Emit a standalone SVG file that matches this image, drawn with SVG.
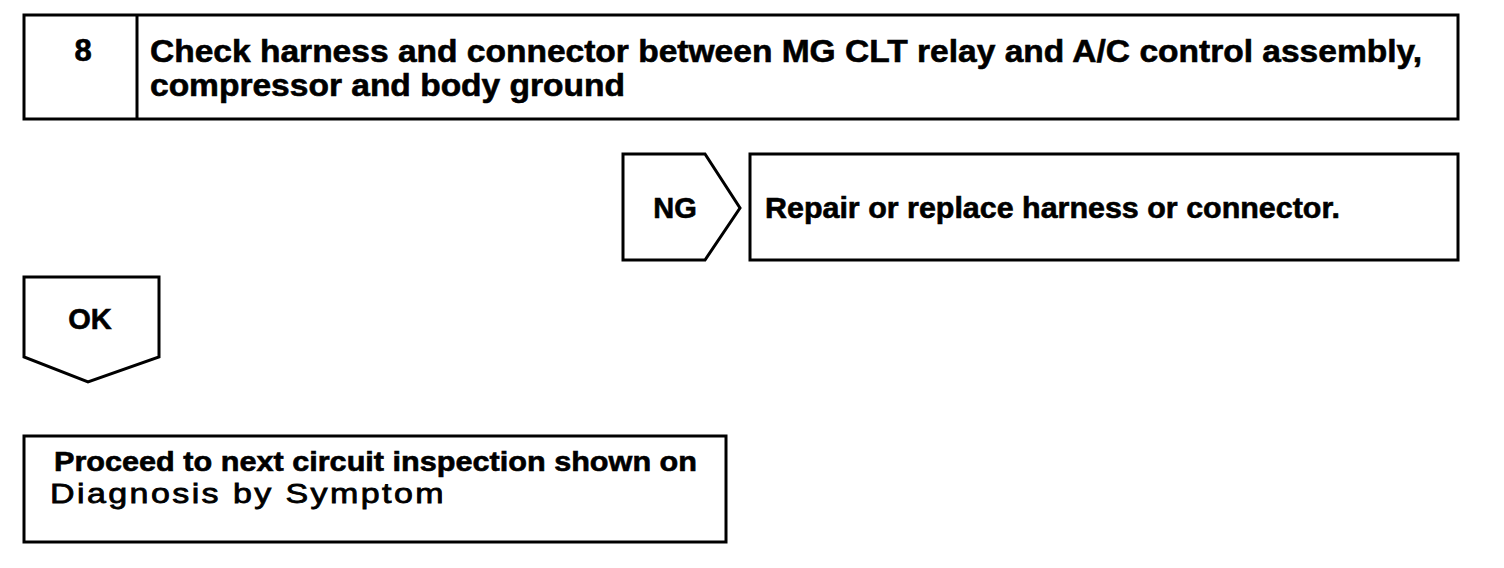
<svg xmlns="http://www.w3.org/2000/svg" width="1504" height="568" viewBox="0 0 1504 568">
<style>
.b{fill:#fff;stroke:#000;stroke-width:3}
.t{font-family:"Liberation Sans",Arial,sans-serif;font-weight:bold;fill:#000;stroke:#000;stroke-width:0.6}
.r{font-family:"Liberation Sans",Arial,sans-serif;font-weight:normal;fill:#000;stroke:#000;stroke-width:0.8}
</style>
<rect width="1504" height="568" fill="#fff"/>
<g id="step8">
<rect class="b" x="24" y="15" width="1434" height="104"/>
<line x1="137" y1="15" x2="137" y2="119" stroke="#000" stroke-width="3"/>
<text class="t" x="83" y="61" font-size="31" text-anchor="middle">8</text>
<text class="t" x="150" y="62" font-size="32" textLength="1272" lengthAdjust="spacingAndGlyphs">Check harness and connector between MG CLT relay and A/C control assembly,</text>
<text class="t" x="150" y="96" font-size="32" textLength="475" lengthAdjust="spacingAndGlyphs">compressor and body ground</text>
</g>
<g id="ng">
<polygon class="b" points="623,154 705,154 740,208 705,260 623,260"/>
<text class="t" x="675" y="218" font-size="29" text-anchor="middle">NG</text>
</g>
<g id="repair">
<rect class="b" x="750" y="154" width="708" height="106"/>
<text class="t" x="765" y="218" font-size="29" textLength="575" lengthAdjust="spacingAndGlyphs">Repair or replace harness or connector.</text>
</g>
<g id="ok">
<polygon class="b" points="24,277 159,277 159,357 88,382 24,357"/>
<text class="t" x="90" y="329" font-size="29" text-anchor="middle">OK</text>
</g>
<g id="proceed">
<rect class="b" x="24" y="436" width="702" height="106"/>
<text class="t" x="54" y="471" font-size="27" textLength="643" lengthAdjust="spacingAndGlyphs">Proceed to next circuit inspection shown on</text>
<text class="r" x="50" y="503" font-size="28" letter-spacing="2" textLength="396" lengthAdjust="spacingAndGlyphs">Diagnosis by Symptom</text>
</g>
<g id="connectors"></g>
</svg>
